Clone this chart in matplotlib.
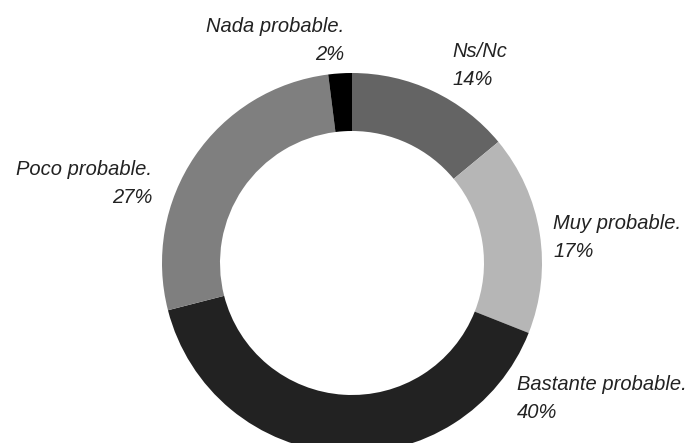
import matplotlib
matplotlib.use("Agg")
import matplotlib.pyplot as plt

# data (clockwise from 12 o'clock)
categories = ["Ns/Nc", "Muy probable.", "Bastante probable.", "Poco probable.", "Nada probable."]
percent = [14, 17, 40, 27, 2]
slice_colors = ["#646464", "#b6b6b6", "#222222", "#7f7f7f", "#000000"]

W, H = 689, 443

# label layout in pixels: (x, baseline of first line, horizontal alignment)
label_pos = [
    (452, 57, "left"),
    (553, 229, "left"),
    (517, 390, "left"),
    (152, 175, "right"),
    (344, 32, "right"),
]
line_gap = 28


def py(y):
    # pixel row (from top) -> data y
    return H - y


fig = plt.figure(figsize=(W / 100, H / 100), dpi=100)
ax = fig.add_axes([0, 0, 1, 1])

ax.pie(percent, colors=slice_colors, startangle=90, counterclock=False,
       radius=190, center=(352, py(263)),
       wedgeprops=dict(width=58, edgecolor="none", linewidth=0))

ax.set_xlim(0, W)
ax.set_ylim(0, H)
ax.set_aspect("equal")
ax.axis("off")

font = dict(family=["Liberation Sans", "DejaVu Sans"], style="italic",
            fontsize=14.5, color="#222222")
for name, pct, (x, y, ha) in zip(categories, percent, label_pos):
    ax.text(x, py(y), name, ha=ha, va="baseline", **font)
    ax.text(x, py(y + line_gap), f"{pct}%", ha=ha, va="baseline", **font)

fig.savefig("out.png", dpi=100, facecolor="white")
